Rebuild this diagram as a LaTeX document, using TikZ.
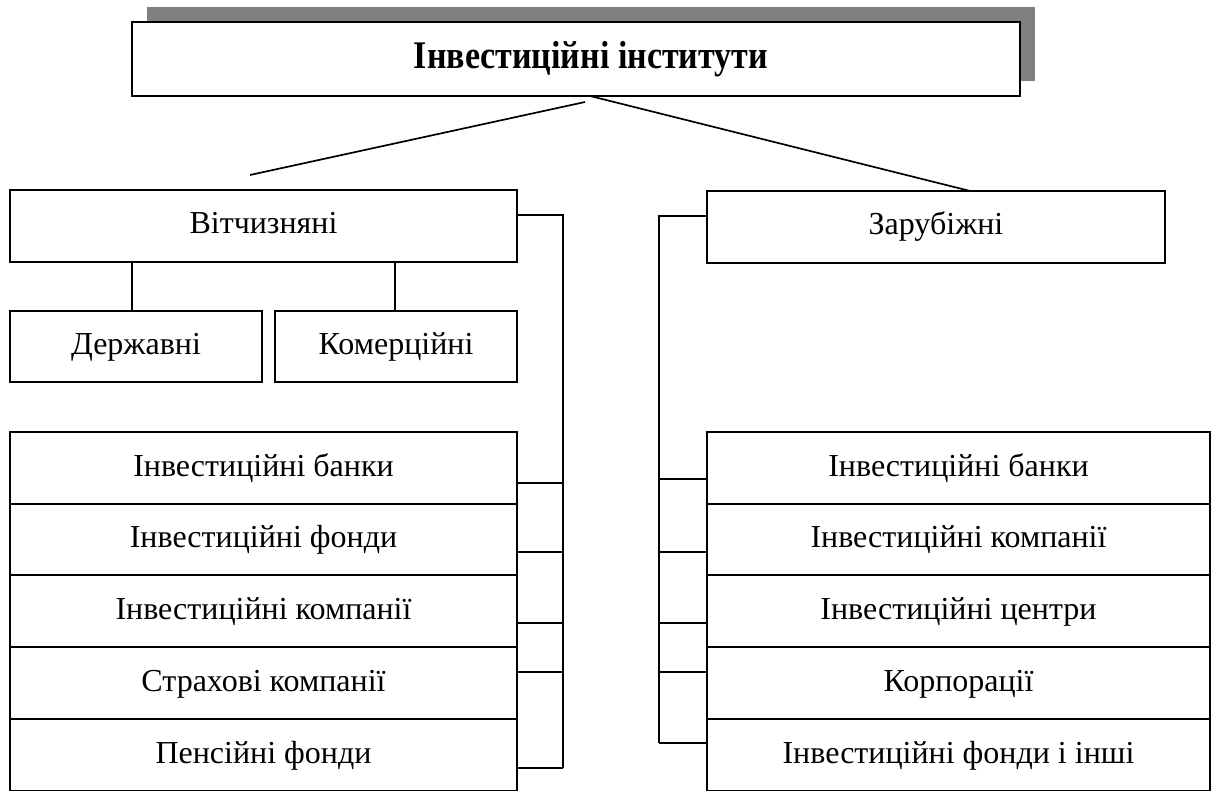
\documentclass[tikz,border=0pt]{standalone}
\usepackage{fontspec}
\setmainfont{Liberation Serif}
\usetikzlibrary{calc}
\definecolor{shadowgray}{RGB}{128,128,128}
\tikzset{
  box/.style={draw=black, line width=1.7pt, fill=white, inner sep=0pt, minimum height=72pt,
    font=\fontsize{32}{38}\selectfont, text height=22pt, text depth=6pt},
  link/.style={draw=black, line width=1.7pt},
}
\begin{document}
\begin{tikzpicture}[x=1pt,y=-1pt]
\useasboundingbox (0,0) rectangle (1213,791);
% shadow of title
\fill[shadowgray] (147,7) rectangle (1035,81);
\node[box, minimum width=888pt, minimum height=74pt, font=\fontsize{34}{40}\selectfont\bfseries, text height=26pt, text depth=6pt] (top) at (576,59) {\hspace*{30pt}\scalebox{1.0}[1.15]{Інвестиційні інститути}};

\node[box, minimum width=507pt] (vit) at (263.5,226) {Вітчизняні};
\node[box, minimum width=252pt, minimum height=71pt] (der) at (136,346.5) {Державні};
\node[box, minimum width=242pt, minimum height=71pt] (kom) at (396,346.5) {Комерційні};

\node[box, minimum width=507pt] (l1) at (263.5,468) {Інвестиційні банки};
\node[box, minimum width=507pt, minimum height=71pt] (l2) at (263.5,539.5) {Інвестиційні фонди};
\node[box, minimum width=507pt] (l3) at (263.5,611) {Інвестиційні компанії};
\node[box, minimum width=507pt] (l4) at (263.5,683) {Страхові компанії};
\node[box, minimum width=507pt] (l5) at (263.5,755) {Пенсійні фонди};

\node[box, minimum width=458pt] (zar) at (936,227) {Зарубіжні};

\node[box, minimum width=503pt] (r1) at (958.5,468) {Інвестиційні банки};
\node[box, minimum width=503pt, minimum height=71pt] (r2) at (958.5,539.5) {Інвестиційні компанії};
\node[box, minimum width=503pt] (r3) at (958.5,611) {Інвестиційні центри};
\node[box, minimum width=503pt] (r4) at (958.5,683) {Корпорації};
\node[box, minimum width=503pt] (r5) at (958.5,755) {Інвестиційні фонди і інші};

% lines from title
\coordinate (tl) at (585,102);
\coordinate (tlend) at (250,175);
\coordinate (tr) at (590,96);
\coordinate (trend) at (970,191);
\draw[link] (tl) -- (tlend);
\draw[link] (tr) -- (trend);

% Вітчизняні children
\coordinate (d1) at (132,262);
\coordinate (k1) at (395,262);
\draw[link] (d1) -- (der.north -| d1);
\draw[link] (k1) -- (kom.north -| k1);

% left bus
\coordinate (lb0) at (563,215);
\coordinate (lb1) at (563,483);
\coordinate (lb2) at (563,552);
\coordinate (lb3) at (563,623);
\coordinate (lb4) at (563,672);
\coordinate (lb5) at (563,768);
\draw[link] (vit.east |- lb0) -- (lb0) -- (lb5);
\draw[link] (l1.east |- lb1) -- (lb1);
\draw[link] (l2.east |- lb2) -- (lb2);
\draw[link] (l3.east |- lb3) -- (lb3);
\draw[link] (l4.east |- lb4) -- (lb4);
\draw[link] (l5.east |- lb5) -- (lb5);

% right bus
\coordinate (rb0) at (659,216);
\coordinate (rb1) at (659,479);
\coordinate (rb2) at (659,552);
\coordinate (rb3) at (659,623);
\coordinate (rb4) at (659,672);
\coordinate (rb5) at (659,743);
\draw[link] (zar.west |- rb0) -- (rb0) -- (rb5);
\draw[link] (r1.west |- rb1) -- (rb1);
\draw[link] (r2.west |- rb2) -- (rb2);
\draw[link] (r3.west |- rb3) -- (rb3);
\draw[link] (r4.west |- rb4) -- (rb4);
\draw[link] (r5.west |- rb5) -- (rb5);
\end{tikzpicture}
\end{document}
